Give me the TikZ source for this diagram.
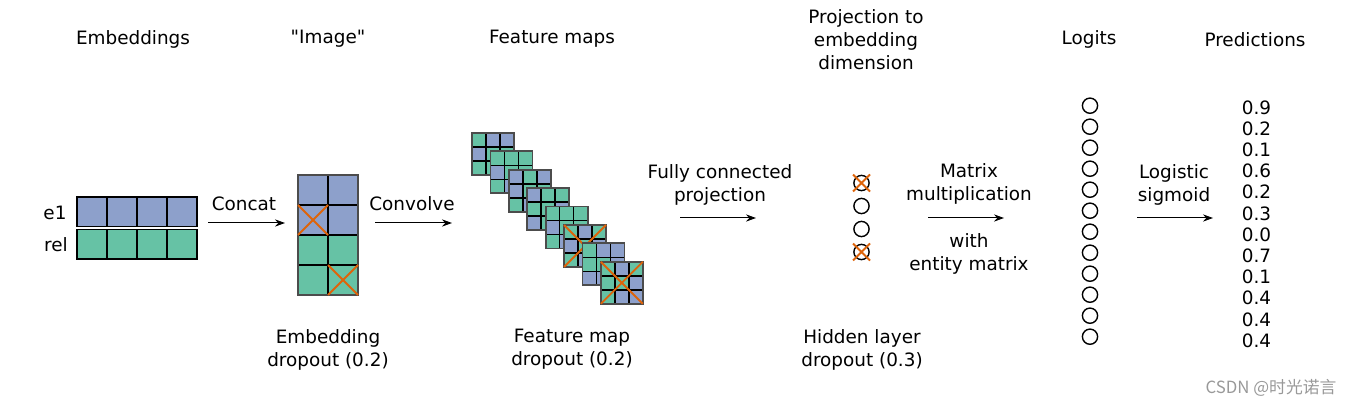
\documentclass[tikz,border=0pt]{standalone}
\usepackage{fontspec}
\setmainfont{DejaVu Sans}[Ligatures=TeXOff]
\newfontfamily\cjkfont{Noto Sans CJK SC}
\usetikzlibrary{arrows.meta}
\definecolor{cb}{RGB}{141,160,203}
\definecolor{cg}{RGB}{102,194,165}
\definecolor{corange}{RGB}{222,100,10}
\begin{document}
\begin{tikzpicture}[x=0.5pt,y=-0.5pt,
  lbl/.style={font=\fontsize{9.2}{11.5}\selectfont, align=center, inner sep=0pt},
  cell/.style={draw=black, line width=0.75pt},
  frame/.style={draw=black!70, line width=0.9pt},
  xmark/.style={draw=corange, line width=0.95pt},
  arr/.style={-{Stealth[length=5pt,width=3.6pt]}, line width=0.5pt},
  unit/.style={circle, draw=black, line width=0.7pt, minimum size=7.6pt, inner sep=0pt}]
\useasboundingbox (0,0) rectangle (1356,406);

% titles
\node[lbl] (tEmb) at (133,39) {Embeddings};
\node[lbl] (tImg) at (328,39) {"Image"};
\node[lbl] (tFM) at (552,39) {Feature maps};
\node[lbl] (tProj) at (866,40) {Projection to\\embedding\\dimension};
\node[lbl] (tLog) at (1089,39) {Logits};
\node[lbl] (tPred) at (1255,40) {Predictions};

% embeddings
\node[lbl] (le1) at (55,213) {e1};
\node[lbl] (lrel) at (56,245) {rel};
\foreach \i in {0,...,3} {
  \draw[cell, fill=cb] (77+30*\i,197) rectangle ++(30,29.5);
  \draw[cell, fill=cg] (77+30*\i,229.5) rectangle ++(30,29.5);
}

% concat arrow
\coordinate (c1s) at (208,223);
\coordinate (c1e) at (285,223);
\draw[arr] (c1s) -- (c1e);
\node[lbl] (lcat) at (244,204) {Concat};

% image
\foreach \r/\col in {0/cb,1/cb,2/cg,3/cg} {
  \foreach \c in {0,1} {
    \draw[cell, fill=\col] (298+30*\c,175+30*\r) rectangle ++(30,30);
  }
}
\draw[frame] (298,175) rectangle (358,295);
\draw[xmark] (298,205) -- (328,235) (328,205) -- (298,235);
\draw[xmark] (328,265) -- (358,295) (358,265) -- (328,295);

% convolve arrow
\coordinate (c2s) at (375,223);
\coordinate (c2e) at (452,223);
\draw[arr] (c2s) -- (c2e);
\node[lbl] (lconv) at (412,204) {Convolve};

% feature maps
\foreach \k/\pat in {
  0/{cg,cb,cb,cb,cg,cg,cg,cg,cb},
  1/{cg,cg,cg,cb,cg,cg,cg,cb,cg},
  2/{cb,cg,cb,cb,cg,cg,cg,cb,cg},
  3/{cb,cg,cg,cg,cg,cb,cb,cg,cg},
  4/{cg,cg,cg,cb,cg,cg,cg,cb,cg},
  5/{cg,cb,cg,cb,cg,cb,cg,cb,cg},
  6/{cg,cb,cb,cg,cg,cb,cb,cb,cg},
  7/{cg,cb,cg,cg,cg,cb,cg,cb,cb}} {
  \pgfmathsetmacro{\ox}{472+18.4*\k}
  \pgfmathsetmacro{\oy}{133+18.4*\k}
  \foreach \cc [count=\n from 0] in \pat {
    \pgfmathtruncatemacro{\rr}{int(\n/3)}
    \pgfmathtruncatemacro{\qq}{mod(\n,3)}
    \draw[cell, fill=\cc] (\ox+14*\qq,\oy+14*\rr) rectangle ++(14,14);
  }
  \draw[frame] (\ox,\oy) rectangle ++(42,42);
  \ifnum\k=5
    \draw[xmark] (\ox,\oy) -- ++(42,42) (\ox+42,\oy) -- ++(-42,42);
  \fi
  \ifnum\k=7
    \draw[xmark] (\ox,\oy) -- ++(42,42) (\ox+42,\oy) -- ++(-42,42);
  \fi
}
\node[lbl] (lfmd) at (572,349.5) {Feature map\\dropout (0.2)};
\node[lbl] (lembd) at (328,349.5) {Embedding\\dropout (0.2)};

% fully connected arrow
\coordinate (c3s) at (680,218);
\coordinate (c3e) at (756,218);
\draw[arr] (c3s) -- (c3e);
\node[lbl] (lfc) at (720,184.5) {Fully connected\\projection};

% projection units
\foreach \y [count=\i] in {183,206,229,252} {
  \node[unit] (p\i) at (861.5,\y) {};
}
\draw[xmark] (p1.center) ++(-8.5,-8.5) -- ++(17,17) (p1.center) ++(8.5,-8.5) -- ++(-17,17);
\draw[xmark] (p4.center) ++(-8.5,-8.5) -- ++(17,17) (p4.center) ++(8.5,-8.5) -- ++(-17,17);
\node[lbl] (lhid) at (862,349.5) {Hidden layer\\dropout (0.3)};

% matrix multiplication arrow
\coordinate (c4s) at (928,218);
\coordinate (c4e) at (1004,218);
\draw[arr] (c4s) -- (c4e);
\node[lbl] (lmm) at (969,184) {Matrix\\multiplication};
\node[lbl] (lwith) at (969,254) {with\\entity matrix};

% logits
\foreach \i in {0,...,11} {
  \node[unit] (g\i) at (1090,105.7+21*\i) {};
}

% logistic arrow
\coordinate (c5s) at (1137,218);
\coordinate (c5e) at (1213,218);
\draw[arr] (c5s) -- (c5e);
\node[lbl] (llog) at (1174,184.5) {Logistic\\sigmoid};

% predictions
\foreach \v [count=\i from 0] in {0.9,0.2,0.1,0.6,0.2,0.3,0.0,0.7,0.1,0.4,0.4,0.4} {
  \node[lbl] (pr\i) at (1256.5,107.5+21.2*\i) {\v};
}

% watermark
\node[font=\cjkfont\fontsize{8.4}{10}\selectfont, text=black!40, inner sep=0pt] (wm) at (1271,388) {CSDN @时光诺言};
\end{tikzpicture}
\end{document}
